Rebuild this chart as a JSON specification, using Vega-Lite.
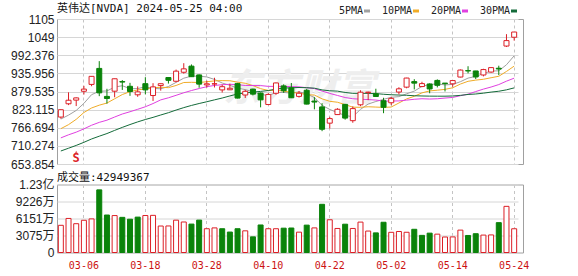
{
  "$schema": "https://vega.github.io/schema/vega-lite/v6.json",
  "background": "white",
  "padding": {"left": 0, "top": 2, "right": 0, "bottom": 0},
  "spacing": -0.5,
  "config": {
    "view": {"stroke": "#a0a0a0"},
    "axis": {"domain": false, "ticks": false, "labelFont": "Liberation Sans", "labelFontSize": 12, "labelColor": "#222", "gridColor": "#d6d6d6", "labelOverlap": false, "labelBound": false, "labelFlush": false, "labelSeparation": 0},
    "axisY": {"minExtent": 56, "maxExtent": 56, "labelPadding": 3, "labelOverlap": false},
    "title": {"font": "DejaVu Sans Mono, Noto Sans CJK SC", "fontSize": 11, "fontWeight": "normal", "color": "#111", "anchor": "start", "frame": "group", "offset": -1.2}
  },
  "datasets": {
    "k": [
      {"date": "2024-01-19", "c": 594.91}, {"date": "2024-01-22", "c": 596.54}, {"date": "2024-01-23", "c": 598.73},
      {"date": "2024-01-24", "c": 613.62}, {"date": "2024-01-25", "c": 616.17}, {"date": "2024-01-26", "c": 610.31},
      {"date": "2024-01-29", "c": 624.65}, {"date": "2024-01-30", "c": 627.74}, {"date": "2024-01-31", "c": 615.27},
      {"date": "2024-02-01", "c": 630.27}, {"date": "2024-02-02", "c": 661.60}, {"date": "2024-02-05", "c": 693.32},
      {"date": "2024-02-06", "c": 682.23}, {"date": "2024-02-07", "c": 700.99}, {"date": "2024-02-08", "c": 696.41},
      {"date": "2024-02-09", "c": 721.33}, {"date": "2024-02-12", "c": 722.48}, {"date": "2024-02-13", "c": 721.28},
      {"date": "2024-02-14", "c": 739.00}, {"date": "2024-02-15", "c": 726.58}, {"date": "2024-02-16", "c": 726.13},
      {"date": "2024-02-20", "c": 694.52}, {"date": "2024-02-21", "c": 674.72}, {"date": "2024-02-22", "c": 785.38},
      {"date": "2024-02-23", "c": 788.17}, {"date": "2024-02-26", "c": 790.92}, {"date": "2024-02-27", "c": 787.01},
      {"date": "2024-02-28", "c": 776.63}, {"date": "2024-02-29", "c": 791.12},
      {"date": "2024-03-01", "o": 800.00, "h": 823.94, "l": 795.0, "c": 822.79, "v": 49200000},
      {"date": "2024-03-04", "o": 841.30, "h": 876.95, "l": 837.20, "c": 852.37, "v": 61600000},
      {"date": "2024-03-05", "o": 852.70, "h": 860.97, "l": 834.17, "c": 859.64, "v": 52100000},
      {"date": "2024-03-06", "o": 880.22, "h": 897.24, "l": 870.15, "c": 887.00, "v": 58300000},
      {"date": "2024-03-07", "o": 901.58, "h": 927.67, "l": 896.02, "c": 926.69, "v": 60800000},
      {"date": "2024-03-08", "o": 951.38, "h": 974.00, "l": 865.06, "c": 875.28, "v": 113300000},
      {"date": "2024-03-11", "o": 864.29, "h": 887.97, "l": 841.66, "c": 857.74, "v": 67800000},
      {"date": "2024-03-12", "o": 880.49, "h": 919.60, "l": 861.50, "c": 919.13, "v": 66800000},
      {"date": "2024-03-13", "o": 910.55, "h": 915.04, "l": 884.39, "c": 908.88, "v": 63600000},
      {"date": "2024-03-14", "o": 895.77, "h": 906.46, "l": 866.00, "c": 879.44, "v": 60200000},
      {"date": "2024-03-15", "o": 869.30, "h": 895.46, "l": 863.00, "c": 878.37, "v": 64000000},
      {"date": "2024-03-18", "o": 903.88, "h": 924.00, "l": 870.72, "c": 884.55, "v": 66900000},
      {"date": "2024-03-19", "o": 867.00, "h": 905.44, "l": 850.10, "c": 893.98, "v": 67200000},
      {"date": "2024-03-20", "o": 897.97, "h": 904.11, "l": 882.23, "c": 903.72, "v": 47900000},
      {"date": "2024-03-21", "o": 923.00, "h": 923.67, "l": 904.28, "c": 914.35, "v": 48000000},
      {"date": "2024-03-22", "o": 911.41, "h": 947.78, "l": 908.34, "c": 942.89, "v": 58500000},
      {"date": "2024-03-25", "o": 939.41, "h": 967.66, "l": 935.10, "c": 950.02, "v": 55200000},
      {"date": "2024-03-26", "o": 958.51, "h": 963.75, "l": 925.02, "c": 925.61, "v": 51400000},
      {"date": "2024-03-27", "o": 931.12, "h": 932.40, "l": 891.23, "c": 902.50, "v": 58600000},
      {"date": "2024-03-28", "o": 900.00, "h": 913.00, "l": 891.93, "c": 903.56, "v": 43000000},
      {"date": "2024-04-01", "o": 902.99, "h": 922.25, "l": 892.04, "c": 903.63, "v": 44500000},
      {"date": "2024-04-02", "o": 884.48, "h": 900.94, "l": 876.20, "c": 894.52, "v": 43000000},
      {"date": "2024-04-03", "o": 884.84, "h": 903.74, "l": 884.00, "c": 889.64, "v": 37000000},
      {"date": "2024-04-04", "o": 904.06, "h": 906.34, "l": 858.00, "c": 859.05, "v": 43000000},
      {"date": "2024-04-05", "o": 868.60, "h": 884.82, "l": 859.26, "c": 880.08, "v": 39200000},
      {"date": "2024-04-08", "o": 887.00, "h": 888.30, "l": 867.32, "c": 871.33, "v": 28300000},
      {"date": "2024-04-09", "o": 874.72, "h": 876.27, "l": 830.22, "c": 853.54, "v": 49800000},
      {"date": "2024-04-10", "o": 839.00, "h": 874.00, "l": 837.09, "c": 870.39, "v": 43000000},
      {"date": "2024-04-11", "o": 874.00, "h": 907.39, "l": 869.26, "c": 906.16, "v": 43000000},
      {"date": "2024-04-12", "o": 896.99, "h": 901.75, "l": 875.30, "c": 881.86, "v": 44000000},
      {"date": "2024-04-15", "o": 890.98, "h": 906.00, "l": 859.16, "c": 860.01, "v": 44300000},
      {"date": "2024-04-16", "o": 864.33, "h": 881.18, "l": 860.64, "c": 874.15, "v": 36800000},
      {"date": "2024-04-17", "o": 883.40, "h": 887.75, "l": 839.50, "c": 840.35, "v": 49500000},
      {"date": "2024-04-18", "o": 849.70, "h": 861.90, "l": 824.02, "c": 846.71, "v": 44500000},
      {"date": "2024-04-19", "o": 831.50, "h": 843.24, "l": 756.06, "c": 762.00, "v": 87200000},
      {"date": "2024-04-22", "o": 781.04, "h": 800.73, "l": 764.00, "c": 795.18, "v": 59200000},
      {"date": "2024-04-23", "o": 807.69, "h": 827.69, "l": 807.00, "c": 824.23, "v": 43500000},
      {"date": "2024-04-24", "o": 839.50, "h": 840.82, "l": 791.83, "c": 796.77, "v": 51200000},
      {"date": "2024-04-25", "o": 788.68, "h": 833.23, "l": 782.23, "c": 826.32, "v": 43500000},
      {"date": "2024-04-26", "o": 838.18, "h": 883.31, "l": 833.79, "c": 877.35, "v": 55000000},
      {"date": "2024-04-29", "o": 875.95, "h": 879.04, "l": 852.66, "c": 877.57, "v": 38800000},
      {"date": "2024-04-30", "o": 872.40, "h": 888.19, "l": 863.00, "c": 864.02, "v": 35500000},
      {"date": "2024-05-01", "o": 850.77, "h": 860.00, "l": 812.00, "c": 830.41, "v": 54700000},
      {"date": "2024-05-02", "o": 844.48, "h": 863.06, "l": 837.01, "c": 858.17, "v": 36500000},
      {"date": "2024-05-03", "o": 877.89, "h": 892.82, "l": 870.60, "c": 887.89, "v": 38000000},
      {"date": "2024-05-06", "o": 893.06, "h": 922.20, "l": 889.54, "c": 921.40, "v": 36600000},
      {"date": "2024-05-07", "o": 910.40, "h": 917.82, "l": 886.07, "c": 905.54, "v": 42000000},
      {"date": "2024-05-08", "o": 894.93, "h": 909.84, "l": 893.10, "c": 904.12, "v": 31000000},
      {"date": "2024-05-09", "o": 902.95, "h": 905.00, "l": 874.05, "c": 887.47, "v": 35000000},
      {"date": "2024-05-10", "o": 914.01, "h": 917.20, "l": 892.24, "c": 898.78, "v": 33200000},
      {"date": "2024-05-13", "o": 905.74, "h": 906.00, "l": 879.73, "c": 903.99, "v": 28000000},
      {"date": "2024-05-14", "o": 903.50, "h": 914.25, "l": 894.28, "c": 913.56, "v": 28200000},
      {"date": "2024-05-15", "o": 924.55, "h": 948.26, "l": 923.32, "c": 946.30, "v": 40500000},
      {"date": "2024-05-16", "o": 944.50, "h": 958.19, "l": 936.18, "c": 943.59, "v": 30800000},
      {"date": "2024-05-17", "o": 943.47, "h": 943.70, "l": 918.28, "c": 924.79, "v": 34000000},
      {"date": "2024-05-20", "o": 930.94, "h": 950.29, "l": 926.53, "c": 947.80, "v": 31500000},
      {"date": "2024-05-21", "o": 940.00, "h": 954.46, "l": 937.88, "c": 953.86, "v": 31800000},
      {"date": "2024-05-22", "o": 952.00, "h": 959.82, "l": 930.59, "c": 949.50, "v": 54000000},
      {"date": "2024-05-23", "o": 1021.0, "h": 1058.0, "l": 1018.0, "c": 1037.99, "v": 83500000},
      {"date": "2024-05-24", "o": 1048.45, "h": 1064.69, "l": 1038.0, "c": 1064.69, "v": 42949367}
    ]
  },
  "vconcat": [
    {
      "width": 466,
      "height": 145,
      "title": {"text": "英伟达[NVDA] 2024-05-25 04:00"},
      "encoding": {
        "x": {
          "field": "date", "type": "ordinal",
          "scale": {"range": [0, 461], "paddingInner": 0, "paddingOuter": 0},
          "axis": {
            "title": null, "labels": false, "ticks": false, "domain": false,
            "grid": true, "gridDash": [3, 3], "gridColor": "#c4c4c4", "bandPosition": 0.5,
            "values": ["2024-03-06", "2024-03-18", "2024-03-28", "2024-04-10", "2024-04-22", "2024-05-02", "2024-05-14", "2024-05-24"],
            "minExtent": 0, "maxExtent": 0
          }
        },
        "y": {
          "type": "quantitative",
          "scale": {"domain": [653.854, 1105.218], "nice": false, "zero": false},
          "axis": {
            "title": null, "grid": true, "labelOverlap": false, "labelBound": false,
            "values": [653.854, 710.274, 766.694, 823.115, 879.535, 935.956, 992.3762, 1048.797, 1105.218],
            "labelExpr": "datum.value > 1000 ? format(datum.value, '.0f') : format(datum.value, '.3f')"
          }
        }
      },
      "layer": [
        {
          "data": {"values": [{"date": "2024-04-16", "wm": "东方财富"}]},
          "mark": {"type": "text", "font": "Noto Sans CJK SC", "fontSize": 38, "fontWeight": "bold", "fontStyle": "italic", "color": "#eeeeee"},
          "encoding": {
            "x": {"field": "date", "type": "ordinal"},
            "y": {"datum": 884},
            "text": {"field": "wm"}
          }
        },
        {
          "data": {"name": "k"},
          "transform": [
            {"window": [{"op": "mean", "field": "c", "as": "5PMA"}], "frame": [-4, 0], "sort": [{"field": "date"}]},
            {"window": [{"op": "mean", "field": "c", "as": "10PMA"}], "frame": [-9, 0], "sort": [{"field": "date"}]},
            {"window": [{"op": "mean", "field": "c", "as": "20PMA"}], "frame": [-19, 0], "sort": [{"field": "date"}]},
            {"window": [{"op": "mean", "field": "c", "as": "30PMA"}], "frame": [-29, 0], "sort": [{"field": "date"}]},
            {"filter": "datum.date >= '2024-03-01'"}
          ],
          "layer": [
            {
              "transform": [{"fold": ["5PMA", "10PMA", "20PMA", "30PMA"], "as": ["ma", "val"]}],
              "mark": {"type": "line", "strokeWidth": 1},
              "encoding": {
                "x": {"field": "date", "type": "ordinal"},
                "y": {"field": "val", "type": "quantitative"},
                "color": {
                  "field": "ma", "type": "nominal",
                  "scale": {"domain": ["5PMA", "10PMA", "20PMA", "30PMA"], "range": ["#a0a0a0", "#f0ac28", "#e040e0", "#146b3a"]},
                  "legend": {
                    "title": null, "orient": "none", "direction": "horizontal", "legendX": 305, "legendY": -13,
                    "symbolType": "stroke", "symbolSize": 36, "symbolStrokeWidth": 3,
                    "labelFont": "DejaVu Sans Mono", "labelFontSize": 10, "labelColor": "#222",
                    "labelAlign": "right", "labelOffset": -9, "columnPadding": 5
                  }
                },
                "sort": {"field": "date"}
              }
            },
            {
              "mark": {"type": "rule", "strokeWidth": 1},
              "encoding": {
                "x": {"field": "date", "type": "ordinal"},
                "y": {"field": "l", "type": "quantitative"},
                "y2": {"field": "h"},
                "color": {"condition": {"test": "datum.c >= datum.o", "value": "#dc1f26"}, "value": "#0a830a"}
              }
            },
            {
              "mark": {"type": "bar", "size": 5, "strokeWidth": 1},
              "encoding": {
                "x": {"field": "date", "type": "ordinal"},
                "y": {"field": "o", "type": "quantitative"},
                "y2": {"field": "c"},
                "fill": {"condition": {"test": "datum.c >= datum.o", "value": "#ffffff"}, "value": "#0a830a"},
                "stroke": {"condition": {"test": "datum.c >= datum.o", "value": "#dc1f26"}, "value": "#0a830a"}
              }
            }
          ]
        },
        {
          "data": {"values": [{"date": "2024-03-05", "label": "S"}]},
          "layer": [
            {
              "mark": {"type": "text", "fontSize": 12, "fontWeight": "bold", "color": "#dc1f26", "font": "DejaVu Sans Mono"},
              "encoding": {
                "x": {"field": "date", "type": "ordinal"},
                "y": {"datum": 672},
                "text": {"field": "label"}
              }
            },
            {
              "mark": {"type": "point", "shape": "triangle-up", "filled": true, "size": 14, "color": "#dc1f26"},
              "encoding": {
                "x": {"field": "date", "type": "ordinal"},
                "y": {"datum": 690}
              }
            }
          ]
        }
      ]
    },
    {
      "width": 466,
      "height": 68,
      "title": {"text": "成交量:42949367", "offset": -4},
      "data": {"name": "k"},
      "transform": [
        {"window": [{"op": "lag", "field": "c", "param": 1, "as": "pc"}], "sort": [{"field": "date"}]},
        {"filter": "datum.date >= '2024-03-01'"}
      ],
      "mark": {"type": "bar", "size": 5, "strokeWidth": 1},
      "encoding": {
        "x": {
          "field": "date", "type": "ordinal",
          "scale": {"range": [0, 461], "paddingInner": 0, "paddingOuter": 0},
          "axis": {
            "title": null, "ticks": false, "domain": false, "labelAngle": 0,
            "grid": true, "gridDash": [3, 3], "gridColor": "#c4c4c4", "bandPosition": 0.5,
            "values": ["2024-03-06", "2024-03-18", "2024-03-28", "2024-04-10", "2024-04-22", "2024-05-02", "2024-05-14", "2024-05-24"],
            "labelExpr": "slice(datum.value, 5)",
            "labelFont": "DejaVu Sans Mono", "labelFontSize": 10, "labelColor": "#cc1111", "labelPadding": 8
          }
        },
        "y": {
          "field": "v", "type": "quantitative",
          "scale": {"domain": [0, 123020000], "nice": false},
          "axis": {
            "title": null, "grid": true, "labelOverlap": false,
            "values": [0, 30755000, 61510000, 92265000, 123020000],
            "labelFont": "Liberation Sans, Noto Sans CJK SC",
            "labelExpr": "datum.value == 0 ? '0' : (datum.value >= 100000000 ? format(datum.value / 100000000, '.2f') + '亿' : floor(datum.value / 10000) + '万')"
          }
        },
        "fill": {"condition": {"test": "datum.c >= datum.pc", "value": "#ffffff"}, "value": "#0a830a"},
        "stroke": {"condition": {"test": "datum.c >= datum.pc", "value": "#dc1f26"}, "value": "#0a830a"}
      }
    }
  ]
}
